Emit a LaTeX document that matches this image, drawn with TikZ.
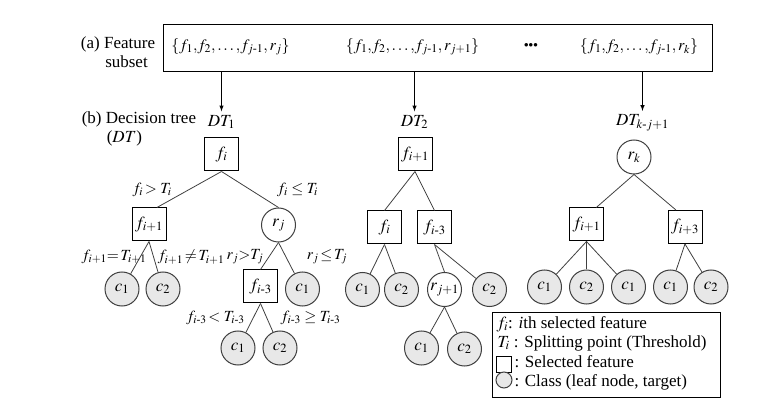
\documentclass[tikz,border=0pt]{standalone}
\usepackage{amsmath}
\usepackage{mathptmx}
\usepackage[no-math]{fontspec}
\setmainfont{Liberation Serif}
\usepackage{tikz}
\usetikzlibrary{positioning}

\tikzset{
    feat/.style={draw, rectangle, minimum width=34pt, minimum height=33pt, inner sep=0pt},
    leaf/.style={draw=black!75, circle, fill=gray!18, minimum size=34pt, inner sep=0pt},
    split/.style={draw=black!75, circle, fill=white, minimum size=34pt, inner sep=0pt},
    edge/.style={draw=black!75, line width=0.8pt},
    cond/.style={inner sep=0pt, font=\fontsize{15.5}{18}\selectfont},
    subset/.style={font=\fontsize{16}{18}\selectfont},
    key/.style={anchor=west, inner sep=0pt},
}
\newcommand{\hy}{\text{-}}
\newcommand{\cm}{{,}}

\begin{document}
\begin{tikzpicture}[x=1pt, y=1pt, font=\fontsize{17}{19}\selectfont, line width=1pt]
        \useasboundingbox (0,0) rectangle (764,413);
        %Feature subsets
            \node[draw, minimum width=549pt, minimum height=47pt] (subsets) at (437.5,364.5) {};
            \node[align=center] (lbla) at (118,361) {(a) Feature\\ \quad subset};
            \node[subset] (set1) at (230.5,366) {$\{f_1\cm f_2\cm \ldots\cm f_{j\hy1}\cm\, r_j\}$};
            \node[subset] (set2) at (412.5,366) {$\{f_1\cm f_2\cm \ldots\cm f_{j\hy1}\cm\, r_{j+1}\}$};
            \node (dots) at (531,367) {\small$\bullet\!\bullet\!\bullet$};
            \node[subset] (set3) at (639,366) {$\{f_1\cm f_2\cm \ldots\cm f_{j\hy1}\cm\, r_k\}$};
        %Tree labels
            \node[align=left, anchor=west] (lblb) at (78,284) {(b) Decision tree\\ \hspace*{25pt}($DT$)};
            \node (dt1) at (221.5,291) {$DT_1$};
            \node (dt2) at (414.5,291) {$DT_2$};
            \node (dt3) at (642.5,290) {$DT_{k\hy j+1}$};
        %Arrows
            \foreach \t in {dt1,dt2,dt3}
            {
                \draw[-latex] (\t.north |- subsets.south) -- (\t.north);
            }
        %Tree 1
            \node[feat] (t1root) at (221.5,258.5) {$f_i$};
            \node[feat] (t1a) at (149,188.5) {$f_{i+1}$};
            \node[split] (t1b) at (278.5,188) {$r_j$};
            \node[leaf] (t1c1) at (122,124) {$c_1$};
            \node[leaf] (t1c2) at (163,124) {$c_2$};
            \node[feat] (t1d) at (260.5,126.5) {$f_{i\hy3}$};
            \node[leaf] (t1e) at (302.5,124) {$c_1$};
            \node[leaf] (t1f) at (238,65) {$c_1$};
            \node[leaf] (t1g) at (280,65) {$c_2$};
            \draw[edge] (t1root.south) -- (t1a.65);
            \draw[edge] (t1root.south) -- (t1b.north);
            \draw[edge] (t1a.south) -- (t1c1);
            \draw[edge] (t1a.south) -- (t1c2);
            \draw[edge] (t1b.south) -- (t1d.north);
            \draw[edge] (t1b.south) -- (t1e);
            \draw[edge] (t1d.south) -- (t1f);
            \draw[edge] (t1d.south) -- (t1g);
        %Conditions
            \node[cond] (q1) at (152,223) {$f_i\!> T_i$};
            \node[cond] (q2) at (297.5,223) {$f_i \leq T_i$};
            \node[cond] (q3) at (114,156) {$f_{i+1}\!\!=\!T_{i+1}$};
            \node[cond] (q4) at (191,156) {$f_{i+1}\!\neq\! T_{i+1}$};
            \node[cond] (q5) at (245,156) {$r_j\!\!>\!\!T_j$};
            \node[cond] (q6) at (327,156) {$r_j\!\leq\! T_j$};
            \node[cond] (q7) at (215.5,95) {$f_{i\hy3}\!< T_{i\hy3}$};
            \node[cond] (q8) at (310.5,95) {$f_{i\hy3} \geq T_{i\hy3}$};
        %Tree 2
            \node[feat] (t2root) at (415,258.5) {$f_{i+1}$};
            \node[feat] (t2a) at (384.5,185.5) {$f_i$};
            \node[feat] (t2b) at (434.5,185.5) {$f_{i\hy3}$};
            \node[leaf] (t2c1) at (362.5,123.5) {$c_1$};
            \node[leaf] (t2c2) at (401.5,123.5) {$c_2$};
            \node[split] (t2d) at (444.5,123.5) {$r_{j+1}$};
            \node[leaf] (t2e) at (489.5,123.5) {$c_2$};
            \node[leaf] (t2f) at (421.5,65) {$c_1$};
            \node[leaf] (t2g) at (464.5,64) {$c_2$};
            \draw[edge] (t2root.south) -- (t2a.north);
            \draw[edge] (t2root.south) -- (t2b.north);
            \draw[edge] (t2a.south) -- (t2c1);
            \draw[edge] (t2a.south) -- (t2c2);
            \draw[edge] (t2b.south) -- (t2d.north);
            \draw[edge] (t2b.south) -- (t2e);
            \draw[edge] (t2d.south) -- (t2f);
            \draw[edge] (t2d.south) -- (t2g);
        %Tree 3
            \node[split] (t3root) at (634,256) {$r_k$};
            \node[feat] (t3a) at (586.5,188.5) {$f_{i+1}$};
            \node[feat] (t3b) at (685,186) {$f_{i+3}$};
            \draw[edge] (t3root.south) -- (t3a.60);
            \draw[edge] (t3root.south) -- (t3b.118);
            \foreach \x/\c/\p [count=\n] in {544.5/1/t3a, 586.5/2/t3a, 628.5/1/t3a, 670.5/1/t3b, 711/2/t3b}
            {
                \node[leaf] (t3c\n) at (\x,126) {$c_\c$};
                \draw[edge] (\p.south) -- (t3c\n);
            }
        %Legend
            \node[draw, minimum width=228pt, minimum height=84pt] (legend) at (606,58) {};
            \node[key] (key1) at (496,89) {$f_i$: \textit{i}th selected feature};
            \node[key] (key2) at (497,70) {$T_i$ : Splitting point (Threshold)};
            \node[draw, minimum width=15pt, minimum height=16pt, inner sep=0pt] (keybox) at (503.5,49) {};
            \node[key] (key3) at (514,51) {: Selected feature};
            \node[leaf, minimum size=16pt] (keyleaf) at (504,33) {};
            \node[key] (key4) at (514,31) {: Class (leaf node, target)};
    \end{tikzpicture}
\end{document}
